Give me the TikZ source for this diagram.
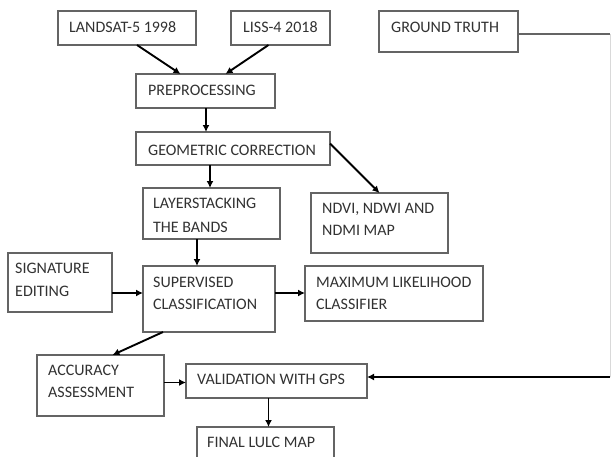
\documentclass[tikz,border=0pt]{standalone}
\usepackage{fontspec}
\setmainfont{Carlito}
\usetikzlibrary{arrows.meta}
\definecolor{txtc}{RGB}{50,50,50}
\definecolor{boxc}{RGB}{100,100,100}
\tikzset{
  box/.style={draw=boxc, line width=1.3pt, anchor=north west, inner sep=0pt, outer sep=0pt},
  lbl/.style={anchor=base west, inner sep=0pt, text=txtc, font=\fontsize{16}{22}\selectfont},
  arr/.style={draw=black, line width=1.9pt, -{Latex[length=7pt,width=7pt]}},
}
\begin{document}
\begin{tikzpicture}[x=1pt,y=-1pt]
\clip (0,0) rectangle (611,456);
\fill[white] (0,0) rectangle (611,456);
% boxes
\node[box, minimum width=138, minimum height=34] (lan) at (58,11) {};
\node[box, minimum width=99, minimum height=34] (liss) at (231,11) {};
\node[box, minimum width=139, minimum height=41] (gt) at (379,11) {};
\node[box, minimum width=139, minimum height=34] (pre) at (136,74) {};
\node[box, minimum width=194, minimum height=33] (geo) at (136,132) {};
\node[box, minimum width=137, minimum height=51] (lay) at (143,188) {};
\node[box, minimum width=137, minimum height=60] (ndvi) at (311,193) {};
\node[box, minimum width=104, minimum height=59] (sig) at (8,253) {};
\node[box, minimum width=132, minimum height=66] (sup) at (143,266) {};
\node[box, minimum width=178, minimum height=55] (max) at (305,266) {};
\node[box, minimum width=127, minimum height=61] (acc) at (37,355) {};
\node[box, minimum width=181, minimum height=34] (val) at (186,364) {};
\node[box, minimum width=137, minimum height=50] (fin) at (197,427) {};
% labels
\node[lbl] (tlan) at (69,32) {LANDSAT-5 1998};
\node[lbl] (tliss) at (243,32) {LISS-4 2018};
\node[lbl] (tgt) at (391,32) {GROUND TRUTH};
\node[lbl] (tpre) at (148,95) {PREPROCESSING};
\node[lbl] (tgeo) at (148,155) {GEOMETRIC CORRECTION};
\node[lbl] (tlay1) at (153,208) {LAYERSTACKING};
\node[lbl] (tlay2) at (153,232) {THE BANDS};
\node[lbl] (tndvi1) at (322,213) {NDVI, NDWI AND};
\node[lbl] (tndvi2) at (322,235) {NDMI MAP};
\node[lbl] (tsig1) at (15,273) {SIGNATURE};
\node[lbl] (tsig2) at (15,296) {EDITING};
\node[lbl] (tsup1) at (153,287) {SUPERVISED};
\node[lbl] (tsup2) at (153,309) {CLASSIFICATION};
\node[lbl] (tmax1) at (316,287) {MAXIMUM LIKELIHOOD};
\node[lbl] (tmax2) at (316,309) {CLASSIFIER};
\node[lbl] (tacc1) at (48,375) {ACCURACY};
\node[lbl] (tacc2) at (48,397) {ASSESSMENT};
\node[lbl] (tval) at (197,384) {VALIDATION WITH GPS};
\node[lbl] (tfin) at (207,447) {FINAL LULC MAP};
% connectors
\coordinate (sigout) at ([yshift=-10.5]sig.east);
\coordinate (supout) at ([yshift=6]sup.east);
\coordinate (accout) at ([yshift=3]acc.east);
\coordinate (preout) at ([xshift=0.5]pre.south);
\coordinate (layout) at ([xshift=-14.5]lay.south);
\draw[arr] ([xshift=10]lan.south) -- ([xshift=-25]pre.north);
\draw[arr] ([xshift=-12]liss.south) -- ([xshift=20]pre.north);
\draw[arr] (preout) -- (preout |- geo.north);
\draw[arr] ([xshift=-23]geo.south) -- ([xshift=-23]geo.south |- lay.north);
\draw[arr] (layout) -- (layout |- sup.north);
\draw[arr] ([yshift=5]geo.east) -- (ndvi.north);
\draw[arr] (sigout) -- (sup.west |- sigout);
\draw[arr] (supout) -- (max.west |- supout);
\draw[arr] ([xshift=-46]sup.south) -- ([xshift=12]acc.north);
\draw[arr] (accout) -- (val.west |- accout);
\draw[arr] ([xshift=-8]val.south) -- ([xshift=-8]val.south |- fin.north);
\coordinate (c1) at (610,34);
\coordinate (c2) at (610,377);
\draw[boxc, line width=1.2pt] (gt.east |- c1) -- (c1);
\draw[black!15, line width=1pt] (c1) -- (c2);
\draw[arr] (c2) -- (val.east |- c2);
\end{tikzpicture}
\end{document}
